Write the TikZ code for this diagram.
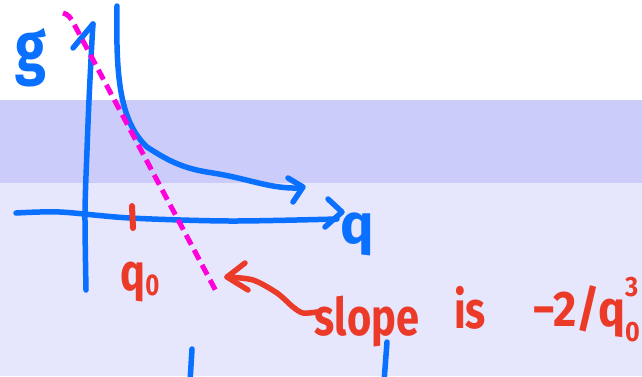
\documentclass[tikz,border=0pt]{standalone}
\usepackage{fontspec}
\setmainfont{Fira Sans}
\definecolor{penblue}{RGB}{10,112,255}
\definecolor{penred}{RGB}{236,58,40}
\definecolor{penmag}{RGB}{255,0,220}
\definecolor{banddark}{RGB}{204,204,251}
\definecolor{bandlight}{RGB}{230,230,253}
\newcommand{\hsquash}[1]{\scalebox{0.8}[1]{#1}}
\newcommand{\qscripts}{q\makebox[0pt][l]{\raisebox{0.6em}{\fontsize{28}{28}\selectfont 3}}\raisebox{-0.3em}{\fontsize{28}{28}\selectfont 0}}
\begin{document}
\begin{tikzpicture}[x=1pt,y=-1pt,
  pen/.style={line width=5.5pt,line cap=round,line join=round},
  bluepen/.style={pen,draw=penblue},
  redpen/.style={pen,draw=penred},
  dashpen/.style={line width=5pt,draw=penmag,dash pattern=on 11pt off 6pt},
  bluetext/.style={text=penblue,inner sep=0pt},
  redtext/.style={text=penred,inner sep=0pt,anchor=base,font=\fontsize{52}{52}\selectfont}]
\useasboundingbox (0,0) rectangle (642,376);
\fill[bandlight] (0,183) rectangle (642,376);
\fill[banddark] (0,100) rectangle (642,183);

% axes
\draw[bluepen] plot[smooth] coordinates {(86,290) (85,213) (87,150) (89,100) (92,40) (93,24)};
\draw[bluepen] (73,48) -- (93,24);
\draw[bluepen] plot[smooth] coordinates {(16,213) (60,212) (130,218) (230,221) (337,219)};
\draw[bluepen] (328,199) -- (342,212) -- (325,227);

% curve
\draw[bluepen] (117,6) .. controls (116,70) and (118,120) .. (147,147)
  .. controls (170,162) and (185,169) .. (213,173)
  .. controls (250,179) and (270,189) .. (300,188);
\draw[bluepen] (288,178) -- (303,187) -- (293,202);

% tangent
\coordinate (tanstart) at (63,13);
\coordinate (tanend) at (217,293);
\draw[dashpen] (tanstart) .. controls (68,14) and (71,18) .. (74,24) -- (tanend);

% tick at q0
\draw[redpen,line width=6pt] (132,206) -- (133,228);

% labels
\node[bluetext,font=\fontsize{70}{70}\selectfont\bfseries] (glabel) at (31,58) {\hsquash{g}};
\node[bluetext,font=\fontsize{56}{56}\selectfont\bfseries] (qlabel) at (357,234) {q};
\node[redtext,font=\fontsize{52}{52}\selectfont\bfseries] (q0label) at (140,290) {\hsquash{q\raisebox{-0.1em}{\fontsize{30}{30}\selectfont 0}}};
\node[redtext,font=\fontsize{52}{52}\selectfont\bfseries] (slope) at (367,335) {\hsquash{slope}};
\node[redtext,font=\fontsize{52}{52}\selectfont\bfseries] (is) at (470,328) {\hsquash{is}};
\node[redtext,font=\fontsize{50}{50}\selectfont\bfseries,anchor=base east] (frac) at (640,326) {\scalebox{0.9}[1]{−2/\qscripts}};

% arrow from text to tangent
\coordinate (atip) at (227,277);
\coordinate (atail) at (317,312);
\draw[redpen] plot[smooth] coordinates {(atail) (303,313) (293,307) (277,293) (253,280) (atip)};
\draw[redpen] (245,263) -- (atip) -- (248,290);

% marks at bottom
\draw[bluepen] (192,349) -- (190,382);
\draw[bluepen] (387,342) -- (384,382);
\end{tikzpicture}
\end{document}
